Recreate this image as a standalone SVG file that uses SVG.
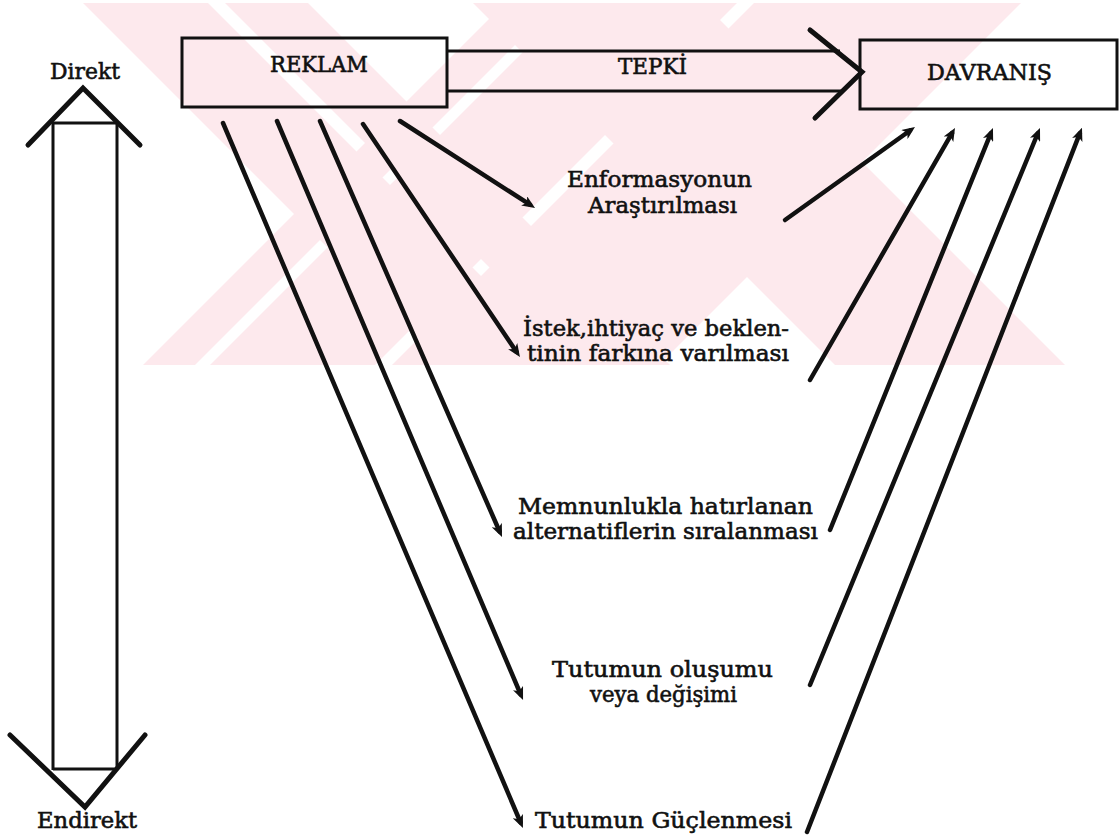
<svg xmlns="http://www.w3.org/2000/svg" width="1120" height="835" viewBox="0 0 1120 835">
  <style>
    .lbl { font-family: "DejaVu Serif", "Liberation Serif", serif; font-size: 22px; fill: #111; stroke: #111; stroke-width: 0.6; }
    .box { fill: none; stroke: #111; stroke-width: 3; }
    .conn { fill: none; stroke: #111; stroke-width: 4.5; stroke-linecap: round; }
    .head { fill: none; stroke: #111; stroke-width: 5; stroke-linecap: round; stroke-linejoin: miter; }
    .shaft { fill: none; stroke: #111; stroke-width: 3; }
    .wm { fill: #fde9ed; }
  </style>
  <defs>
    <marker id="tip" markerUnits="userSpaceOnUse" markerWidth="13" markerHeight="11" viewBox="0 0 13 11" refX="7" refY="5.5" orient="auto">
      <path d="M0,0 L13,5.5 L0,11 L3.5,5.5 z" fill="#111"/>
    </marker>
    <clipPath id="wmclip">
      <rect x="0" y="3" width="1120" height="362"/>
    </clipPath>
  </defs>

  <rect width="1120" height="835" fill="#fff"/>

  <!-- faint background emblem: diagonal bands -->
  <g id="watermark" clip-path="url(#wmclip)">
    <polygon class="wm" points="80,0 205,0 575,370 450,370"/>
    <polygon class="wm" points="222,0 305,0 675,370 592,370"/>
    <polygon class="wm" points="508,0 560,0 190,370 138,370"/>
    <polygon class="wm" points="575,0 740,0 370,370 205,370"/>
    <polygon class="wm" points="757,0 1024,0 654,370 387,370"/>
    <polygon class="wm" points="470,0 700,0 1070,370 840,370"/>
  </g>

  <!-- Direkt / Endirekt scale -->
  <g id="scale">
    <line class="shaft" x1="53" y1="122" x2="53" y2="770"/>
    <line class="shaft" x1="117" y1="122" x2="117" y2="770"/>
    <line class="shaft" x1="53" y1="123" x2="117" y2="123" stroke-width="2"/>
    <line class="shaft" x1="53" y1="769" x2="117" y2="769" stroke-width="2"/>
    <polyline class="head" points="28,145 83,88 140,145"/>
    <polyline class="head" points="10,735 85,807 145,735"/>
    <text class="lbl" x="50" y="79" textLength="70" lengthAdjust="spacingAndGlyphs">Direkt</text>
    <text class="lbl" x="37" y="828" textLength="100" lengthAdjust="spacingAndGlyphs">Endirekt</text>
  </g>

  <g id="reklam">
    <rect class="box" x="182" y="38" width="265" height="69"/>
    <text class="lbl" x="270" y="72" textLength="98" lengthAdjust="spacingAndGlyphs">REKLAM</text>
  </g>

  <g id="tepki">
    <line class="box" x1="447" y1="51" x2="840" y2="51"/>
    <line class="box" x1="447" y1="91" x2="843" y2="91"/>
    <polyline class="head" points="810,30 862,72 815,118"/>
    <text class="lbl" x="618" y="74" textLength="69" lengthAdjust="spacingAndGlyphs">TEPKİ</text>
  </g>

  <g id="davranis">
    <rect class="box" x="860" y="40" width="257" height="69"/>
    <text class="lbl" x="927" y="80" textLength="125" lengthAdjust="spacingAndGlyphs">DAVRANIŞ</text>
  </g>

  <g id="enformasyon">
    <text class="lbl" x="567" y="187" textLength="185" lengthAdjust="spacingAndGlyphs">Enformasyonun</text>
    <text class="lbl" x="588" y="213" textLength="149" lengthAdjust="spacingAndGlyphs">Araştırılması</text>
  </g>

  <g id="istek">
    <text class="lbl" x="523" y="336" textLength="266" lengthAdjust="spacingAndGlyphs">İstek,ihtiyaç ve beklen-</text>
    <text class="lbl" x="527" y="361" textLength="262" lengthAdjust="spacingAndGlyphs">tinin farkına varılması</text>
  </g>

  <g id="memnunluk">
    <text class="lbl" x="518" y="514" textLength="295" lengthAdjust="spacingAndGlyphs">Memnunlukla hatırlanan</text>
    <text class="lbl" x="513" y="539" textLength="305" lengthAdjust="spacingAndGlyphs">alternatiflerin sıralanması</text>
  </g>

  <g id="tutum-olusum">
    <text class="lbl" x="552" y="677" textLength="221" lengthAdjust="spacingAndGlyphs">Tutumun oluşumu</text>
    <text class="lbl" x="590" y="702" textLength="147" lengthAdjust="spacingAndGlyphs">veya değişimi</text>
  </g>

  <g id="tutum-guclenme">
    <text class="lbl" x="535" y="828" textLength="257" lengthAdjust="spacingAndGlyphs">Tutumun Güçlenmesi</text>
  </g>

  <!-- connectors: REKLAM to each stage, each stage to DAVRANIŞ -->
  <g id="connectors">
    <line class="conn" x1="223" y1="123" x2="520.6" y2="822.5" marker-end="url(#tip)"/>
    <line class="conn" x1="277" y1="121" x2="520.7" y2="694.5" marker-end="url(#tip)"/>
    <line class="conn" x1="320" y1="121" x2="499.6" y2="531.5" marker-end="url(#tip)"/>
    <line class="conn" x1="363" y1="124" x2="516.6" y2="352.0" marker-end="url(#tip)"/>
    <line class="conn" x1="400" y1="121" x2="530.0" y2="204.7" marker-end="url(#tip)"/>
    <line class="conn" x1="785" y1="220" x2="910.1" y2="130.5" marker-end="url(#tip)"/>
    <line class="conn" x1="810" y1="380" x2="952.0" y2="133.2" marker-end="url(#tip)"/>
    <line class="conn" x1="830" y1="530" x2="990.7" y2="133.6" marker-end="url(#tip)"/>
    <line class="conn" x1="810" y1="685" x2="1037.7" y2="133.5" marker-end="url(#tip)"/>
    <line class="conn" x1="807" y1="832" x2="1079.8" y2="133.4" marker-end="url(#tip)"/>
  </g>
</svg>
